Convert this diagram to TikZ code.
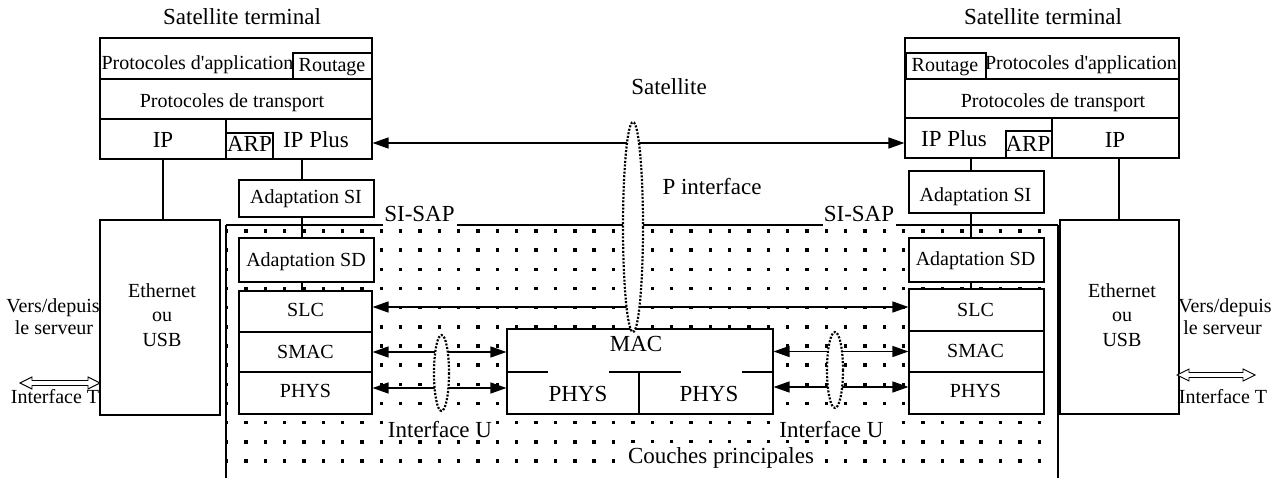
\documentclass[tikz,border=0pt]{standalone}
\usepackage{fontspec}
\setmainfont{Liberation Serif}
\newfontfamily\plainserif{Liberation Serif}
\usetikzlibrary{arrows.meta,fit}
\begin{document}
\begin{tikzpicture}[x=1pt,y=-1pt,
  box/.style={draw, line width=1.1pt, fill=white, inner sep=0pt},
  tbox/.style={draw, line width=2.2pt, fill=white, inner sep=0pt},
  sm/.style={font=\plainserif\fontsize{20}{24}\selectfont, inner sep=0pt, anchor=base},
  bg/.style={font=\plainserif\fontsize{23}{27}\selectfont, inner sep=0pt, anchor=base},
  wl/.style={fill=white, inner sep=3pt},
  conn/.style={line width=1.1pt},
  arr/.style={line width=1.3pt, {Triangle[length=16pt,width=11pt]}-{Triangle[length=16pt,width=11pt]}},
  oval/.style={draw, fill=white, line width=2.2pt, dash pattern=on 2pt off 1.6pt},
  hollow/.style={draw, fill=white, line width=0.9pt},
]
\useasboundingbox (0,0) rectangle (1278,478);

% dotted region (core layers)
\foreach \r in {0,...,12}
  \foreach \c in {0,...,42}
    \fill ({226.5+19.35*\c-1.7},{231+19.17*\r-1.7}) rectangle ++(3.4,3.4);
\draw[conn] (226,225) -- (383,225) (457,225) -- (823,225) (896,225) -- (1058,225);
\draw[conn] (226,225) -- (226,478) (1058,225) -- (1058,478);

% left terminal
\node[box, fit={(100,38)(372,79)}] (appL) {};
\node[box, fit={(100,79)(372,119)}] (trL) {};
\node[box, fit={(100,119)(226,159)}] (ipL) {};
\node[box, fit={(226,119)(372,159)}] (ippL) {};
\node[tbox, fit={(293,53)(372,79)}] (rtL) {};
\node[tbox, fit={(226,133)(273,159)}] (arpL) {};
\node[box, fit={(239,180)(374,217)}] (asiL) {};
\node[box, fit={(239,238)(374,282)}] (asdL) {};
\node[box, fit={(239,291)(372,332)}] (slcL) {};
\node[box, fit={(239,332)(372,372)}] (smacL) {};
\node[box, fit={(239,372)(372,414)}] (physL) {};
\node[box, fit={(100,220)(220,415)}] (ethL) {};

% right terminal
\node[box, fit={(905,38)(1179,79)}] (appR) {};
\node[box, fit={(905,79)(1179,118)}] (trR) {};
\node[box, fit={(905,118)(1052,158)}] (ippR) {};
\node[box, fit={(1052,118)(1179,158)}] (ipR) {};
\node[tbox, fit={(906,53)(986,79)}] (rtR) {};
\node[tbox, fit={(1006,131)(1052,158)}] (arpR) {};
\node[box, fit={(909,171)(1044,213)}] (asiR) {};
\node[box, fit={(909,238)(1044,282)}] (asdR) {};
\node[box, fit={(909,289)(1044,331)}] (slcR) {};
\node[box, fit={(909,331)(1044,372)}] (smacR) {};
\node[box, fit={(909,372)(1044,414)}] (physR) {};
\node[box, fit={(1060,220)(1179,414)}] (ethR) {};

% MAC
\node[box, fit={(507,329)(773,414)}] (mac) {};
\draw[conn] (507,372) -- (548,372) (609,372) -- (681,372) (742,372) -- (773,372) (639,372) -- (639,414);

% vertical connectors
\coordinate (xL) at (302,0);
\coordinate (xR) at (971,0);
\coordinate (xE) at (1119,0);
\draw[conn] (ippL.south -| xL) -- (asiL.north -| xL);
\draw[conn] (asiL.south -| xL) -- (asdL.north -| xL);
\draw[conn] (asdL.south -| xL) -- (slcL.north -| xL);
\draw[conn] (ippR.south -| xR) -- (asiR.north -| xR);
\draw[conn] (asiR.south -| xR) -- (asdR.north -| xR);
\draw[conn] (asdR.south -| xR) -- (slcR.north -| xR);
\draw[conn] (ipL.south) -- (ipL.south |- ethL.north);
\draw[conn] (ipR.south -| xE) -- (ethR.north -| xE);

% arrows
\coordinate (aSat) at ([yshift=-4pt]ippL.east);
\coordinate (aSlc) at ([yshift=4.5pt]slcL.east);
\coordinate (aPhL) at ([yshift=5pt]physL.east);
\coordinate (aPhR) at ([yshift=6pt]physR.west);
\draw[arr] (aSat) -- (aSat -| ippR.west);
\draw[arr] (aSlc) -- (aSlc -| slcR.west);
\draw[arr] (smacL.east) -- (smacL.east -| mac.west);
\draw[arr] (aPhL) -- (aPhL -| mac.west);
\draw[arr] (mac.east |- smacR.west) -- (smacR.west);
\draw[arr] (aPhR -| mac.east) -- (aPhR);

% hollow double arrows (interface T)
\coordinate (tL) at (20,383);
\coordinate (tR) at (1177,375);
\draw[hollow] (tL) -- ++(12,-6) -- ++(0,3.5) -- ++(56,0) -- ++(0,-3.5) -- ++(12,6) -- ++(-12,6) -- ++(0,-3.5) -- ++(-56,0) -- ++(0,3.5) -- cycle;
\draw[hollow] (tR) -- ++(12,-6) -- ++(0,3.5) -- ++(54,0) -- ++(0,-3.5) -- ++(12,6) -- ++(-12,6) -- ++(0,-3.5) -- ++(-54,0) -- ++(0,3.5) -- cycle;

% interface ovals
\filldraw[oval] (633,227) ellipse [x radius=10, y radius=105];
\filldraw[oval] (441.5,373) ellipse [x radius=7.5, y radius=38];
\filldraw[oval] (835,370) ellipse [x radius=8, y radius=38];

% texts left
\node[bg] at (242,25) {Satellite terminal};
\node[sm] at (197.5,70) {Protocoles d'application};
\node[sm] at (332,72) {Routage};
\node[sm] at (232,108) {Protocoles de transport};
\node[bg] at (163,148) {IP};
\node[bg] at (316,148) {IP Plus};
\node[bg] at (249.5,152) {ARP};
\node[sm] at (306,204) {Adaptation SI};
\node[sm] at (306,267) {Adaptation SD};
\node[sm] at (305.5,317) {SLC};
\node[sm] at (305.5,359) {SMAC};
\node[sm] at (305.5,398) {PHYS};
\node[sm] at (162,298) {Ethernet};
\node[sm] at (162,322) {ou};
\node[sm] at (162,347) {USB};
\node[sm] at (53,313) {Vers/depuis};
\node[sm] at (54,335) {le serveur};
\node[sm] at (55,403) {Interface T};

% texts right
\node[bg] at (1043,25) {Satellite terminal};
\node[sm] at (945,72) {Routage};
\node[sm] at (1081,70) {Protocoles d'application};
\node[sm] at (1053,108) {Protocoles de transport};
\node[bg] at (954,147) {IP Plus};
\node[bg] at (1028,152) {ARP};
\node[bg] at (1115,148) {IP};
\node[sm] at (975.5,202) {Adaptation SI};
\node[sm] at (975.5,266) {Adaptation SD};
\node[sm] at (975.5,317) {SLC};
\node[sm] at (975.5,358) {SMAC};
\node[sm] at (975.5,398) {PHYS};
\node[sm] at (1122,298) {Ethernet};
\node[sm] at (1122,322) {ou};
\node[sm] at (1122,347) {USB};
\node[sm] at (1225,313) {Vers/depuis};
\node[sm] at (1222.5,335) {le serveur};
\node[sm] at (1223,403) {Interface T};

% texts middle
\node[bg] at (669,95) {Satellite};
\node[bg] at (712,195) {P interface};
\node[bg] at (419.5,222) {SI-SAP};
\node[bg] at (859,222) {SI-SAP};
\node[bg] at (636,352) {MAC};
\node[bg] at (578,402) {PHYS};
\node[bg] at (709,402) {PHYS};
\node[bg, wl] at (440,437) {Interface U};
\node[bg, wl] at (831.5,437) {Interface U};
\node[bg, wl, inner sep=4pt] at (721,463) {Couches principales};
\end{tikzpicture}
\end{document}
